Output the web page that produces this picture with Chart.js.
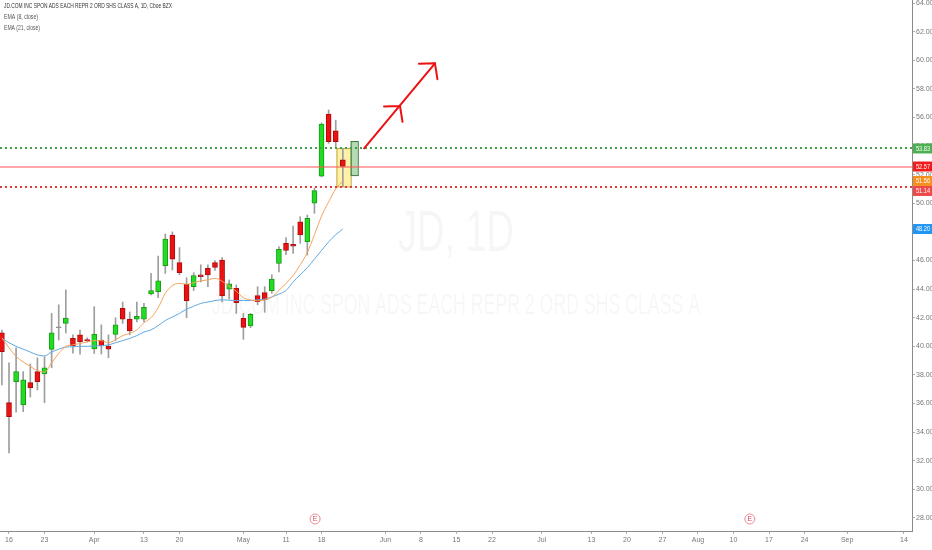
<!DOCTYPE html>
<html>
<head>
<meta charset="utf-8">
<script src="https://cdn.jsdelivr.net/npm/chart.js@4.4.0/dist/chart.umd.min.js"></script>
<style>
  html, body { margin: 0; padding: 0; background: #fff; }
  #wrap { width: 932px; height: 550px; position: relative; }
</style>
</head>
<body>
<div id="wrap"><canvas id="jdChart" width="932" height="550"></canvas></div>
<script>
// trading-day index, 0 = Mon Mar 16
const dayIndex = [-1, 0, 1, 2, 3, 4, 5, 6, 7, 8, 9, 10, 11, 12, 13, 14, 15, 16, 17, 18, 19, 20, 21, 22, 23,
  24, 25, 26, 27, 28, 29, 30, 31, 32, 33, 34, 35, 36, 37, 38, 39, 40, 41, 42, 43, 44, 45, 46, 47];
const opens = [40.95, 36.06, 37.53, 35.9, 37.46, 38.23, 38.07, 39.79, 41.3, 41.6, 40.56, 40.8, 40.46, 39.81,
  40.44, 40.02, 40.84, 42.66, 41.9, 41.9, 41.9, 43.66, 43.82, 45.64, 47.78, 45.85, 44.34, 44.17, 44.99, 45.45,
  45.85, 46.03, 43.99, 44.06, 41.96, 41.42, 43.54, 43.75, 43.89, 45.8, 47.2, 47.13, 48.71, 47.31, 50.0, 51.9,
  56.24, 55.07, 53.03];
const highs = [41.14, 38.84, 39.9, 38.23, 38.77, 39.2, 39.28, 42.3, 42.9, 43.94, 40.8, 41.14, 40.6, 42.77,
  41.5, 40.8, 42.0, 43.1, 42.4, 43.1, 43.0, 45.1, 46.3, 47.85, 48.0, 46.9, 44.8, 45.15, 45.7, 45.7,
  46.0, 46.2, 44.64, 44.29, 42.3, 42.3, 44.17, 44.17, 45.0, 46.97, 47.6, 48.4, 49.06, 49.18, 51.05, 55.62,
  56.52, 55.8, 53.84];
const lows = [37.3, 32.54, 35.4, 35.43, 36.46, 36.95, 36.06, 38.5, 40.44, 40.93, 39.53, 39.46, 40.3, 39.5,
  39.46, 39.2, 40.4, 41.6, 40.8, 41.7, 41.72, 43.6, 43.4, 45.1, 45.34, 45.0, 42.0, 43.9, 44.5, 44.17,
  45.3, 43.1, 43.3, 42.3, 40.49, 41.3, 42.9, 42.38, 43.7, 45.2, 46.4, 46.5, 47.2, 46.38, 49.3, 51.85,
  54.19, 53.84, 51.16];
const closes = [39.62, 35.08, 38.23, 37.65, 37.1, 37.53, 38.5, 40.95, 41.3, 41.98, 40.02, 40.32, 40.4, 40.84,
  40.02, 39.8, 41.5, 41.9, 41.07, 42.1, 42.73, 43.89, 44.57, 47.5, 46.1, 45.15, 43.2, 44.94, 44.87, 44.99,
  45.52, 43.52, 44.36, 43.05, 41.33, 42.24, 43.12, 43.24, 44.7, 46.78, 46.7, 47.0, 47.78, 48.95, 50.88, 55.54,
  54.31, 54.31, 52.57];
const ema8 = [40.6, 39.9, 39.3, 38.9, 38.6, 38.3, 38.2, 38.85, 39.5, 40.0, 40.1, 40.2, 40.3, 40.4,
  40.4, 40.25, 40.45, 40.75, 40.9, 41.15, 41.65, 42.0, 42.7, 43.7, 44.25, 44.4, 44.34, 44.45, 44.57, 44.65,
  44.75, 44.55, 44.2, 43.85, 43.4, 43.25, 43.17, 43.24, 43.45, 43.9, 44.4, 44.95, 45.7, 46.55, 47.8, 49.1,
  50.1, 51.0, 51.56];
const ema21 = [40.55, 40.25, 40.0, 39.8, 39.6, 39.4, 39.33, 39.6, 39.8, 39.95, 39.97, 40.0, 40.0, 40.02,
  40.05, 40.1, 40.25, 40.4, 40.55, 40.75, 41.0, 41.15, 41.45, 41.8, 42.05, 42.3, 42.6, 42.8, 43.0, 43.1,
  43.2, 43.25, 43.22, 43.2, 43.2, 43.2, 43.25, 43.3, 43.45, 43.65, 43.9, 44.5, 45.0, 45.5, 46.1, 46.7,
  47.3, 47.8, 48.2];

const tickDays = [0, 5, 12, 19, 24, 33, 39, 44, 53, 58, 63, 68, 75, 82, 87, 92, 97, 102, 107, 112, 118, 126];
const tickLabels = ["16", "23", "Apr", "13", "20", "May", "11", "18", "Jun", "8", "15", "22",
  "Jul", "13", "20", "27", "Aug", "10", "17", "24", "Sep", "14"];
const priceTicks = [28, 30, 32, 34, 36, 38, 40, 42, 44, 46, 48, 50, 52, 54, 56, 58, 60, 62, 64];

// drawings (time index / price)
const greenLevel = 53.83;
const redLevel = 51.14;
const lastPrice = 52.57;
const badgeValues = [53.83, 52.57, 51.56, 51.14, 48.20];
const yellowBox = [46.1, 48.1, 51.18, 53.86];   // x0, x1, low, high
const greenBox = [48.1, 49.1, 51.97, 54.35];
const arrowX = [50.0, 55.05, 59.97];
const arrowY = [53.84, 56.8, 59.78];
const earningsDays = [43.1, 104.3];

const titleText = "JD.COM INC SPON ADS EACH REPR 2 ORD SHS CLASS A, 1D, Cboe BZX";
const watermarkBig = "JD, 1D";
const watermarkSmall = "JD.COM INC SPON ADS EACH REPR 2 ORD SHS CLASS A";

const FONT = "'Liberation Sans Narrow', 'Liberation Sans', sans-serif";
const UP = "#22dc22", UP_EDGE = "#189a18";
const DOWN = "#ee1111", DOWN_EDGE = "#a80c0c";

const bodyFill = opens.map((o, i) => closes[i] > o ? UP : closes[i] < o ? DOWN : "#8a8a8a");
const bodyEdge = opens.map((o, i) => closes[i] > o ? UP_EDGE : closes[i] < o ? DOWN_EDGE : "#8a8a8a");

const drawings = {
  id: "drawings",
  beforeDatasetsDraw(chart) {
    const { ctx, scales: { x, y } } = chart;
    ctx.save();
    // watermark
    ctx.fillStyle = "rgba(0,0,0,0.035)";
    ctx.textAlign = "center";
    ctx.textBaseline = "middle";
    ctx.font = "58px " + FONT;
    ctx.fillText(watermarkBig, 456, 235, 116);
    ctx.font = "30px " + FONT;
    ctx.fillText(watermarkSmall, 456, 306, 488);

    // yellow highlight box
    let x0 = x.getPixelForValue(yellowBox[0]), x1 = x.getPixelForValue(yellowBox[1]);
    let y0 = y.getPixelForValue(yellowBox[3]), y1 = y.getPixelForValue(yellowBox[2]);
    ctx.fillStyle = "rgba(255,232,110,0.6)";
    ctx.fillRect(x0, y0, x1 - x0, y1 - y0);
    ctx.strokeStyle = "#c2a640";
    ctx.lineWidth = 1;
    ctx.strokeRect(x0 + 0.5, y0 + 0.5, x1 - x0, y1 - y0);

    // projected candle box
    x0 = x.getPixelForValue(greenBox[0]); x1 = x.getPixelForValue(greenBox[1]);
    y0 = y.getPixelForValue(greenBox[3]); y1 = y.getPixelForValue(greenBox[2]);
    ctx.fillStyle = "rgba(120,190,120,0.55)";
    ctx.fillRect(x0, y0, x1 - x0, y1 - y0);
    ctx.strokeStyle = "#3d7a3d";
    ctx.strokeRect(x0 + 0.5, y0 + 0.5, x1 - x0, y1 - y0);
    ctx.restore();
  },
  afterDatasetsDraw(chart) {
    const { ctx, chartArea: a, scales: { x, y } } = chart;
    ctx.save();
    // levels
    const hline = (v, color, width, dash) => {
      const py = Math.round(y.getPixelForValue(v));
      ctx.strokeStyle = color;
      ctx.lineWidth = width;
      ctx.setLineDash(dash);
      ctx.beginPath();
      ctx.moveTo(a.left, py);
      ctx.lineTo(a.right, py);
      ctx.stroke();
    };
    hline(greenLevel, "#43a047", 2, [2, 3]);
    hline(lastPrice, "#ff5050", 1.2, []);
    hline(redLevel, "#e53935", 2, [2, 3]);
    ctx.setLineDash([]);

    // arrow
    const pts = arrowX.map((v, i) => [x.getPixelForValue(v), y.getPixelForValue(arrowY[i])]);
    ctx.strokeStyle = "#ee1111";
    ctx.lineWidth = 2;
    ctx.lineCap = "round";
    ctx.beginPath();
    ctx.moveTo(pts[0][0], pts[0][1]);
    ctx.lineTo(pts[2][0], pts[2][1]);
    ctx.stroke();
    const ang = Math.atan2(pts[2][1] - pts[0][1], pts[2][0] - pts[0][0]);
    [pts[1], pts[2]].forEach(p => {
      ctx.beginPath();
      [-0.85, 0.85].forEach(d => {
        ctx.moveTo(p[0], p[1]);
        ctx.lineTo(p[0] - 16 * Math.cos(ang + d), p[1] - 16 * Math.sin(ang + d));
      });
      ctx.stroke();
    });

    // earnings markers
    ctx.lineWidth = 1;
    ctx.strokeStyle = "#e98a96";
    ctx.fillStyle = "#d24b5c";
    ctx.textAlign = "center";
    ctx.textBaseline = "middle";
    ctx.font = "7px " + FONT;
    earningsDays.forEach(d => {
      const px = x.getPixelForValue(d);
      ctx.beginPath();
      ctx.arc(px, 519, 5, 0, Math.PI * 2);
      ctx.stroke();
      ctx.fillText("E", px, 519.5);
    });
    ctx.restore();
  },
  afterDraw(chart) {
    const { ctx, chartArea: a, scales: { y } } = chart;
    ctx.save();
    // legend text
    ctx.textAlign = "left";
    ctx.textBaseline = "middle";
    ctx.font = "8px " + FONT;
    ctx.fillStyle = "#333";
    ctx.fillText(titleText, 4, 6, 168);
    ctx.fillStyle = "#555";
    ctx.fillText("EMA (8, close)", 4, 17, 34);
    ctx.fillText("EMA (21, close)", 4, 28, 36);

    // price badges on the axis
    const colors = ["#4caf50", "#f21c1c", "#f5901e", "#f04848", "#2196f3"];
    let lastBottom = -100;
    badgeValues.forEach((v, i) => {
      let cy = y.getPixelForValue(v);
      if (cy - 5 < lastBottom) cy = lastBottom + 5;
      lastBottom = cy + 5;
      ctx.fillStyle = colors[i];
      ctx.fillRect(a.right + 1, cy - 5, 20, 10);
      ctx.fillStyle = "#fff";
      ctx.font = "7px " + FONT;
      ctx.fillText(v.toFixed(2), a.right + 4, cy + 0.5, 14);
    });
    ctx.restore();
  }
};

const ctx = document.getElementById("jdChart").getContext("2d");

new Chart(ctx, {
  type: "bar",
  data: {
    datasets: [
      {
        type: "line",
        label: "EMA 8",
        data: dayIndex.map((d, i) => ({ x: d, y: ema8[i] })),
        borderColor: "#f5a25a",
        borderWidth: 1,
        pointRadius: 0,
        cubicInterpolationMode: "monotone",
        order: 0
      },
      {
        type: "line",
        label: "EMA 21",
        data: dayIndex.map((d, i) => ({ x: d, y: ema21[i] })),
        borderColor: "#5ea8e2",
        borderWidth: 1,
        pointRadius: 0,
        cubicInterpolationMode: "monotone",
        order: 1
      },
      {
        label: "body",
        data: dayIndex.map((d, i) => ({ x: d, y: [opens[i], closes[i]] })),
        backgroundColor: bodyFill,
        borderColor: bodyEdge,
        borderWidth: 1,
        borderSkipped: false,
        barThickness: 5,
        minBarLength: 1,
        grouped: false,
        order: 2
      },
      {
        label: "wick",
        data: dayIndex.map((d, i) => ({ x: d, y: [lows[i], highs[i]] })),
        backgroundColor: "#9e9e9e",
        barThickness: 1,
        grouped: false,
        order: 3
      }
    ]
  },
  options: {
    responsive: false,
    animation: false,
    events: [],
    layout: { padding: 0 },
    plugins: { legend: { display: false }, tooltip: { enabled: false } },
    scales: {
      x: {
        type: "linear",
        position: "bottom",
        min: -1.267,
        max: 127.13,
        offset: false,
        grid: { display: true, drawOnChartArea: false, offset: false, tickLength: 3, color: "#b0b0b0" },
        border: { color: "#8a8a8a" },
        afterBuildTicks: axis => { axis.ticks = tickDays.map(v => ({ value: v })); },
        afterFit: s => { s.height = 19; s.paddingLeft = 0; s.paddingRight = 0; },
        ticks: {
          autoSkip: false,
          maxRotation: 0,
          padding: 2,
          color: "#777",
          font: { family: FONT, size: 7 },
          callback: v => tickLabels[tickDays.indexOf(v)]
        }
      },
      y: {
        type: "linear",
        position: "right",
        min: 27.09,
        max: 64.21,
        grid: { display: true, drawOnChartArea: false, tickLength: 3, color: "#b0b0b0" },
        border: { color: "#8a8a8a" },
        afterBuildTicks: axis => { axis.ticks = priceTicks.map(v => ({ value: v })); },
        afterFit: s => { s.width = 20; s.paddingTop = 0; s.paddingBottom = 0; },
        ticks: {
          padding: 1,
          color: "#777",
          font: { family: FONT, size: 7 },
          callback: v => v.toFixed(2)
        }
      }
    }
  },
  plugins: [drawings]
});
</script>
</body>
</html>
